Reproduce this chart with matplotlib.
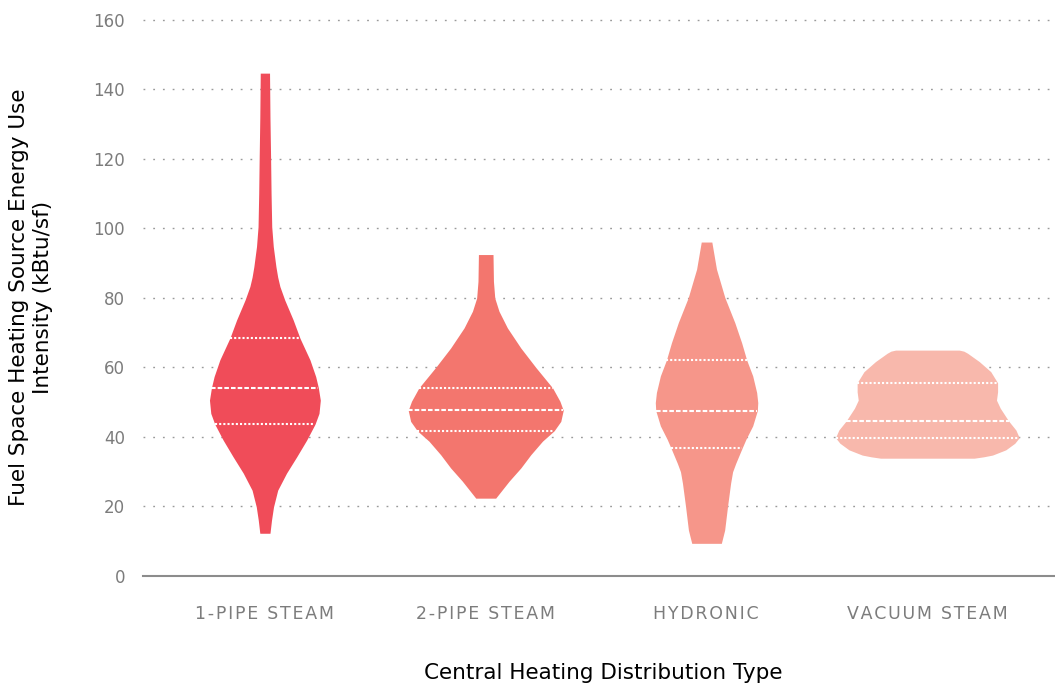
import numpy as np
import matplotlib
matplotlib.use("Agg")
import matplotlib.pyplot as plt

# categories and colours
categories = ["1-PIPE STEAM", "2-PIPE STEAM", "HYDRONIC", "VACUUM STEAM"]
colors = ["#F04C59", "#F3766E", "#F6968A", "#F8B8AC"]

# violin outlines: value and half width (category units)
pipe1_y = [12.3, 16.1, 19.9, 24.7, 29.6, 34.3, 39.1, 43.7, 46.8, 50.6, 54.2, 57.4, 62.2,
           68.4, 73.7, 79.4, 83.3, 86.0, 89.0, 94.8, 100.5, 110, 119.7, 132, 144.7]
pipe1_w = [0.023, 0.030, 0.039, 0.058, 0.098, 0.144, 0.189, 0.227, 0.245, 0.251, 0.242,
           0.230, 0.204, 0.159, 0.128, 0.090, 0.068, 0.058, 0.050, 0.038, 0.031, 0.028,
           0.026, 0.023, 0.021]
pipe2_y = [22.4, 27.3, 31.1, 34.9, 38.8, 41.8, 44.5, 47.7, 50.3, 54.1, 60.0, 65.6, 71.4,
           76.2, 80.0, 84.8, 92.5]
pipe2_w = [0.045, 0.106, 0.159, 0.204, 0.257, 0.310, 0.340, 0.351, 0.336, 0.303, 0.227,
           0.159, 0.098, 0.060, 0.041, 0.035, 0.033]
hydro_y = [9.4, 13.2, 20.0, 26.7, 30.0, 32.4, 36.5, 39.3, 43.2, 47.6, 49.9, 52.8, 57.6,
           62.1, 67.1, 72.9, 80.1, 88.3, 96.1]
hydro_w = [0.067, 0.082, 0.095, 0.109, 0.118, 0.132, 0.159, 0.178, 0.209, 0.230, 0.232,
           0.227, 0.209, 0.182, 0.159, 0.128, 0.083, 0.045, 0.024]
vac_y = [33.9, 34.3, 34.8, 36.3, 38.2, 39.8, 42.0, 44.6, 48.3, 50.6, 53.0, 55.6, 58.8,
         61.7, 64.1, 64.7, 65.0]
vac_w = [0.212, 0.255, 0.295, 0.355, 0.396, 0.416, 0.401, 0.368, 0.330, 0.313, 0.318,
         0.318, 0.287, 0.235, 0.182, 0.165, 0.144]

# quartiles (q1, median, q3)
quartiles = [
    [43.7, 54.2, 68.4],
    [41.8, 47.7, 54.1],
    [36.8, 47.6, 62.1],
    [39.8, 44.6, 55.6],
]

profiles = [(pipe1_y, pipe1_w), (pipe2_y, pipe2_w), (hydro_y, hydro_w), (vac_y, vac_w)]
yticks = [0, 20, 40, 60, 80, 100, 120, 140, 160]

fig = plt.figure(figsize=(10.55, 6.85), dpi=100)
ax = fig.add_axes([143 / 1055, 109 / 685, 1 - 143 / 1055, (576 - 2.6) / 685])

for i, (py, pw) in enumerate(profiles):
    py = np.array(py)
    pw = np.array(pw)
    ax.fill_betweenx(py, i + 0.002 - pw, i + 0.002 + pw, color=colors[i], linewidth=0,
                     zorder=2)
    for k, q in enumerate(quartiles[i]):
        w = np.interp(q, py, pw)
        ls = (0, (2.2, 1.0)) if k == 1 else (0, (1.0, 1.0))
        ax.plot([i + 0.002 - w, i + 0.002 + w], [q, q], color="white", lw=1.5,
                linestyle=ls, zorder=3)

for t in yticks[1:]:
    ax.axhline(t, color="#9a9a9a", lw=1.0, linestyle=(0, (1.3, 5.7)), zorder=1)


def spaced(s):
    # a little letter spacing, like the original typeface
    return "\u200a".join(s)


ax.set_xlim(-0.55, 3.58)
ax.set_ylim(0, 165)
ax.set_yticks(yticks)
ax.set_yticklabels([str(t) for t in yticks], fontsize=12, color="#7c7c7c")
ax.set_xticks(range(len(categories)))
ax.set_xticklabels([spaced(c) for c in categories], fontsize=12.5, color="#7c7c7c")
ax.tick_params(axis="both", length=0)
ax.tick_params(axis="y", pad=13)
ax.tick_params(axis="x", pad=21)
for s in ["top", "right", "left"]:
    ax.spines[s].set_visible(False)
ax.spines["bottom"].set_color("#8c8c8c")
ax.spines["bottom"].set_linewidth(1.5)

fig.text(31 / 1055, 1 - 297 / 685, "Fuel Space Heating Source Energy Use\nIntensity (kBtu/sf)",
         rotation=90, ha="center", va="center", multialignment="center",
         fontsize=15.5, linespacing=1.25, color="black")
fig.text(603 / 1055, 1 - 673 / 685, "Central Heating Distribution Type",
         ha="center", va="center", fontsize=15.5, color="black")

fig.savefig("out.png", dpi=100)
